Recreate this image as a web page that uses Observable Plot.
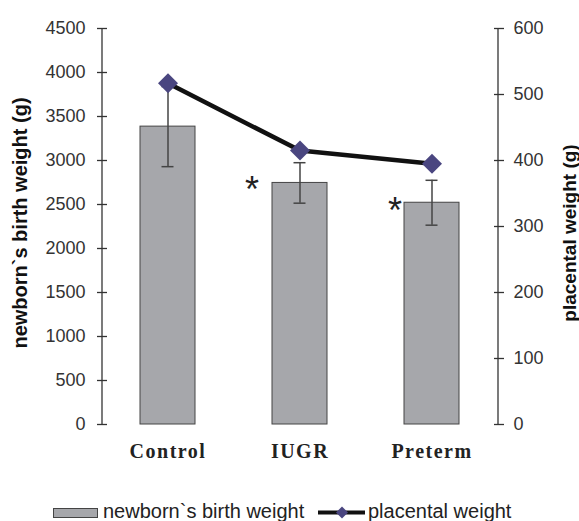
<!DOCTYPE html>
<html><head><meta charset="utf-8">
<script src="https://cdn.jsdelivr.net/npm/d3@7"></script>
<script src="https://cdn.jsdelivr.net/npm/@observablehq/plot@0.6"></script>
<style>
body{margin:0;background:#fff;}
#wrap{position:relative;width:579px;height:521px;overflow:hidden;background:#fff;}
#chart svg [aria-label="x-axis tick label"] text{letter-spacing:1.5px;}
#legend{position:absolute;left:0;top:490px;}
</style></head><body>
<div id="wrap"><div id="chart"></div><div id="legend"></div></div>
<script>
const categories = ["Control", "IUGR", "Preterm"];
const birthWeight = [3385, 2745, 2520];
const birthWeightSD = [455, 230, 255];
const placentalWeight = [517, 415, 395];
const significance = ["", "*", "*"];
const leftTicks = [0, 500, 1000, 1500, 2000, 2500, 3000, 3500, 4000, 4500];
const rightTicks = [0, 100, 200, 300, 400, 500, 600];
const leftMax = 4500, rightMax = 600;
const k = leftMax / rightMax;

const data = categories.map((c, i) => ({
  cat: c, bw: birthWeight[i], sd: birthWeightSD[i], pw: placentalWeight[i], sig: significance[i]
}));

const axisColor = "#333";
const halfStep = 66; // half of the band step, to reach the frame edges from the outer band centres
const chart = Plot.plot({
  width: 579, height: 490,
  marginTop: 28, marginBottom: 66, marginLeft: 102, marginRight: 81,
  style: {fontFamily: "Liberation Sans, Arial, sans-serif", fontSize: "18px", color: "#333", background: "#fff", overflow: "visible"},
  x: {domain: categories, paddingInner: 0.583, paddingOuter: 0.2915, label: null},
  y: {domain: [0, leftMax], label: null},
  marks: [
    Plot.barY(data, {x: "cat", y: "bw", fill: "#a6a7ab", stroke: "#444", strokeWidth: 1}),
    Plot.ruleX(data, {x: "cat", y1: d => d.bw - d.sd, y2: d => d.bw + d.sd, stroke: "#444", strokeWidth: 1.5}),
    Plot.tickY(data, {x: "cat", y: d => d.bw - d.sd, stroke: "#444", strokeWidth: 1.5, inset: 21.5}),
    Plot.tickY(data, {x: "cat", y: d => d.bw + d.sd, stroke: "#444", strokeWidth: 1.5, inset: 21.5}),
    Plot.line(data, {x: "cat", y: d => d.pw * k, stroke: "#111", strokeWidth: 4.5}),
    Plot.dot(data, {x: "cat", y: d => d.pw * k, symbol: "diamond2", r: 9, fill: "#4a4680", stroke: "none"}),
    Plot.text(data.filter(d => d.cat === "IUGR"), {x: "cat", y: "bw", text: "sig", dx: -48, dy: 19, lineAnchor: "bottom", fontSize: 36, fill: "#222"}),
    Plot.text(data.filter(d => d.cat === "Preterm"), {x: "cat", y: "bw", text: "sig", dx: -37, dy: 20, lineAnchor: "bottom", fontSize: 36, fill: "#222"}),
    // axis lines
    Plot.ruleX([categories[0]], {x: d => d, y1: 0, y2: leftMax, dx: -halfStep, stroke: axisColor, strokeWidth: 1.3}),
    Plot.ruleX([categories[categories.length - 1]], {x: d => d, y1: 0, y2: leftMax, dx: halfStep, stroke: axisColor, strokeWidth: 1.3}),
    // left axis
    Plot.axisY(leftTicks, {anchor: "left", tickSize: 10, dx: 5, tickFormat: () => "", stroke: axisColor, strokeWidth: 1.3}),
    Plot.axisY(leftTicks, {anchor: "left", tickSize: 0, tickPadding: 17, tickFormat: d => String(d), fill: "#333", fontSize: 18}),
    // right axis (placental weight)
    Plot.axisY(rightTicks.map(v => v * k), {anchor: "right", tickSize: 10, dx: -5, tickFormat: () => "", stroke: axisColor, strokeWidth: 1.3}),
    Plot.axisY(rightTicks.map(v => v * k), {anchor: "right", tickSize: 0, tickPadding: 15, tickFormat: d => String(Math.round(d / k)), fill: "#333", fontSize: 18}),
    // x axis
    Plot.axisX({tickSize: 0, tickPadding: 19, fontFamily: "Liberation Serif, Times New Roman, serif", fontWeight: "bold", fontSize: 20, fill: "#222", label: null}),
    // axis titles
    Plot.text(["newborn`s birth weight (g)"], {frameAnchor: "left", textAnchor: "middle", dx: -82, dy: -3.5, rotate: -90, fontWeight: "bold", fontSize: 20, fill: "#111"}),
    Plot.text(["placental weight (g)"], {frameAnchor: "right", textAnchor: "middle", dx: 71, dy: 6.5, rotate: -90, fontWeight: "bold", fontSize: 19, fill: "#111"})
  ]
});
document.getElementById("chart").appendChild(chart);

// legend
const legendItems = ["newborn`s birth weight", "placental weight"];
const lg = d3.select("#legend").append("svg").attr("width", 579).attr("height", 31)
  .style("font-family", "Liberation Sans, Arial, sans-serif").style("font-size", "20px");
lg.append("rect").attr("x", 53.5).attr("y", 18.5).attr("width", 44).attr("height", 9)
  .attr("fill", "#a6a7ab").attr("stroke", "#444").attr("stroke-width", 1);
lg.append("text").attr("x", 103).attr("y", 28).attr("fill", "#222").text(legendItems[0]);
lg.append("line").attr("x1", 318).attr("x2", 365).attr("y1", 22.5).attr("y2", 22.5)
  .attr("stroke", "#111").attr("stroke-width", 4);
lg.append("path").attr("d", "M342,16.5L348,22.5L342,28.5L336,22.5Z").attr("fill", "#4a4680");
lg.append("text").attr("x", 368).attr("y", 28).attr("fill", "#222").text(legendItems[1]);
</script>
</body></html>
